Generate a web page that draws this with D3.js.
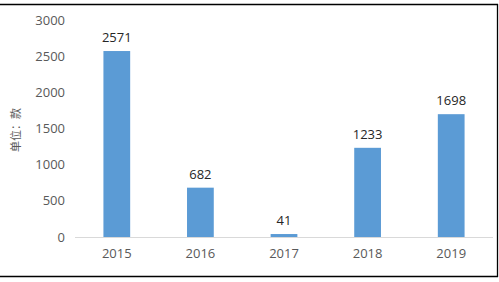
<!DOCTYPE html>
<html>
<head>
<meta charset="utf-8">
<script src="https://cdn.jsdelivr.net/npm/d3@7"></script>
<style>
  body { margin: 0; background: #fff; }
  svg { display: block; }
</style>
</head>
<body>
<div id="chart-area"></div>
<script>
// datos
const years = ["2015", "2016", "2017", "2018", "2019"];
const counts = [2571, 682, 41, 1233, 1698];
const yTicks = [0, 500, 1000, 1500, 2000, 2500, 3000];
const yLabel = "单位：款";

const width = 499;
const height = 282;
const font = "'Open Sans', 'Noto Sans CJK SC', sans-serif";

const svg = d3.select("#chart-area")
    .append("svg")
    .attr("width", width)
    .attr("height", height);

// marco
svg.append("line").attr("x1", 0).attr("x2", 498).attr("y1", 4.5).attr("y2", 4.5)
    .attr("stroke", "#000").attr("stroke-width", 1.3);
svg.append("line").attr("x1", 0).attr("x2", 498).attr("y1", 276.5).attr("y2", 276.5)
    .attr("stroke", "#000").attr("stroke-width", 1.3);
svg.append("line").attr("x1", 497.5).attr("x2", 497.5).attr("y1", 4).attr("y2", 277)
    .attr("stroke", "#000").attr("stroke-width", 1.3);

const x = d3.scaleBand()
    .domain(years)
    .range([75, 493])
    .paddingInner(0.68)
    .paddingOuter(0.34);

const y = d3.scaleLinear()
    .domain([0, 3000])
    .range([237, 20]);

// eje y (solo etiquetas)
svg.append("g")
    .selectAll("text")
    .data(yTicks)
    .enter()
    .append("text")
    .attr("x", 65)
    .attr("y", d => y(d) + 4.5)
    .attr("text-anchor", "end")
    .attr("font-family", font)
    .attr("font-size", 13)
    .attr("fill", "#595959")
    .text(d => d);

// barras
svg.selectAll("rect.bar")
    .data(counts)
    .enter()
    .append("rect")
    .attr("class", "bar")
    .attr("x", (d, i) => x(years[i]))
    .attr("y", d => y(d))
    .attr("width", x.bandwidth())
    .attr("height", d => y(0) - y(d))
    .attr("fill", "#5B9BD5");

// línea base
svg.append("line")
    .attr("x1", 75).attr("x2", 493)
    .attr("y1", y(0) + 0.5).attr("y2", y(0) + 0.5)
    .attr("stroke", "#d9d9d9");

// etiquetas de valores
svg.selectAll("text.val")
    .data(counts)
    .enter()
    .append("text")
    .attr("class", "val")
    .attr("x", (d, i) => x(years[i]) + x.bandwidth() / 2)
    .attr("y", d => y(d) - 9)
    .attr("text-anchor", "middle")
    .attr("font-family", font)
    .attr("font-size", 13)
    .attr("fill", "#262626")
    .text(d => d);

// eje x
svg.selectAll("text.year")
    .data(years)
    .enter()
    .append("text")
    .attr("class", "year")
    .attr("x", d => x(d) + x.bandwidth() / 2)
    .attr("y", 258)
    .attr("text-anchor", "middle")
    .attr("font-family", font)
    .attr("font-size", 13)
    .attr("fill", "#595959")
    .text(d => d);

// título del eje y
svg.append("text")
    .attr("transform", "translate(20,130) rotate(-90)")
    .attr("text-anchor", "middle")
    .attr("font-family", "'Noto Sans CJK SC', sans-serif")
    .attr("font-size", 11)
    .attr("fill", "#595959")
    .text(yLabel);
</script>
</body>
</html>
